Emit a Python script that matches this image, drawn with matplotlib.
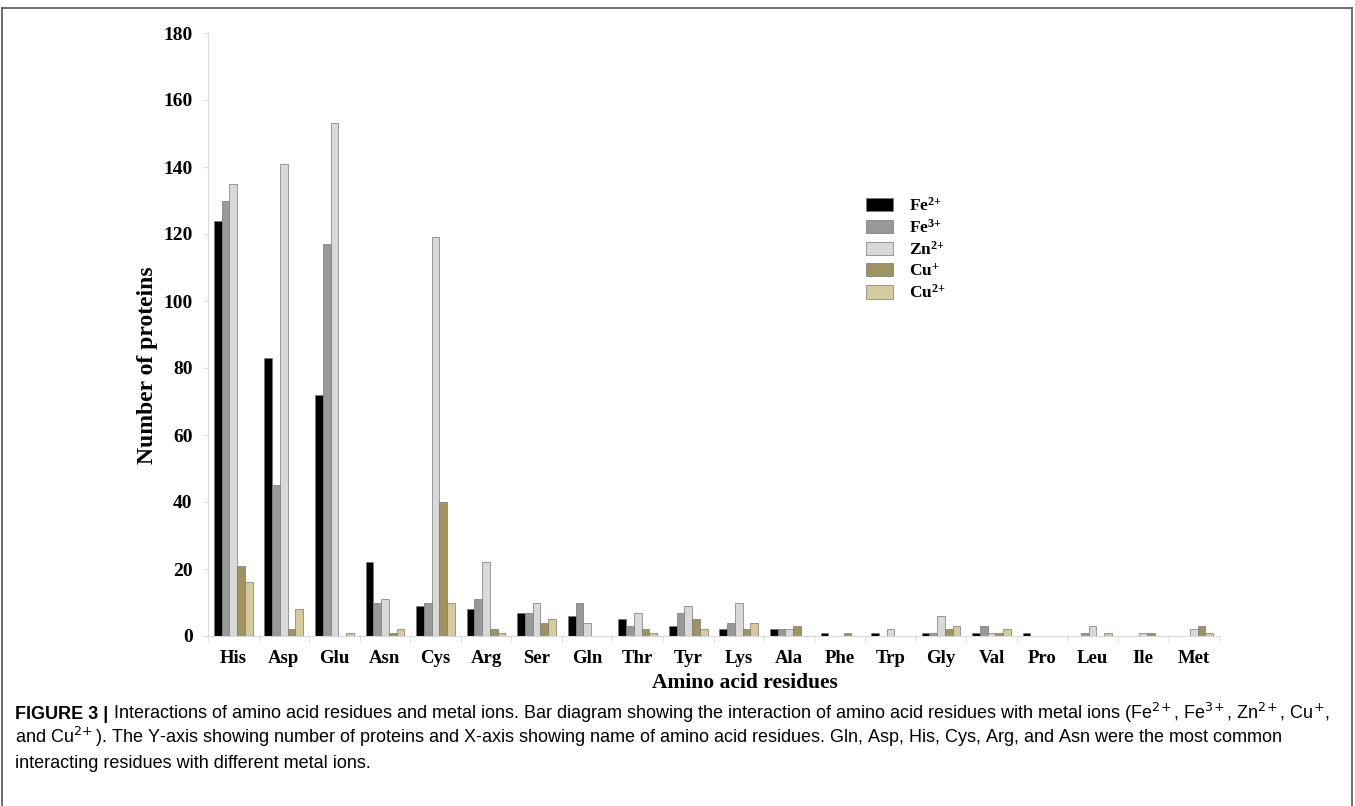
import matplotlib
matplotlib.use("Agg")
from matplotlib import pyplot as plt
from matplotlib.lines import Line2D
import numpy as np

residues = ["His", "Asp", "Glu", "Asn", "Cys", "Arg", "Ser", "Gln", "Thr", "Tyr",
            "Lys", "Ala", "Phe", "Trp", "Gly", "Val", "Pro", "Leu", "Ile", "Met"]
fe2 = [124, 83, 72, 22, 9, 8, 7, 6, 5, 3, 2, 2, 1, 1, 1, 1, 1, 0, 0, 0]
fe3 = [130, 45, 117, 10, 10, 11, 7, 10, 3, 7, 4, 2, 0, 0, 1, 3, 0, 1, 0, 0]
zn2 = [135, 141, 153, 11, 119, 22, 10, 4, 7, 9, 10, 2, 0, 2, 6, 1, 0, 3, 1, 2]
cu1 = [21, 2, 0, 1, 40, 2, 4, 0, 2, 5, 2, 3, 1, 0, 2, 1, 0, 0, 1, 3]
cu2 = [16, 8, 1, 2, 10, 1, 5, 0, 1, 2, 4, 0, 0, 0, 3, 2, 0, 1, 0, 1]
series_labels = [r"Fe$^{2\!+}$", r"Fe$^{3\!+}$", r"Zn$^{2\!+}$", r"Cu$^{+}$", r"Cu$^{2\!+}$"]
yticks = [0, 20, 40, 60, 80, 100, 120, 140, 160, 180]

colors = ["#000000", "#999999", "#d9d9d9", "#a09362", "#d4ca9e"]

plt.rcParams["mathtext.fontset"] = "custom"
plt.rcParams["mathtext.rm"] = "Liberation Serif:bold"
plt.rcParams["mathtext.bf"] = "Liberation Serif:bold"
plt.rcParams["mathtext.it"] = "Liberation Serif:bold"

W, H = 1355, 806
L, R, T, B = 208, 1219, 33, 636
fig = plt.figure(figsize=(W / 100, H / 100), dpi=100)
ax = fig.add_axes([L / W, 1 - B / H, (R - L) / W, (B - T) / H])
aw, ah = R - L, B - T

x = np.arange(len(residues))
bw = 0.153
series = [fe2, fe3, zn2, cu1, cu2]
for i, vals in enumerate(series):
    ax.bar(x + (i - 2) * bw, vals, width=bw, color=colors[i],
           edgecolor="#777777", linewidth=0.5, label=series_labels[i])

ax.set_xlim(-0.5, len(residues) - 0.5)
ax.set_ylim(0, 180)
ax.set_yticks(yticks)
ax.set_xticks(x)
ax.set_xticks(np.arange(len(residues) + 1) - 0.5, minor=True)
ax.tick_params(axis="x", which="major", length=0, pad=10)
ax.tick_params(axis="x", which="minor", length=4, color="#d9d9d9")
ax.tick_params(axis="y", length=3, color="#d9d9d9", pad=8)
ax.set_xticklabels(residues, fontfamily="Liberation Serif", fontweight="bold", fontsize=13.5)
for t in ax.get_yticklabels():
    t.set_fontfamily("Liberation Serif")
    t.set_fontweight("bold")
    t.set_fontsize(14)

for s in ["top", "right"]:
    ax.spines[s].set_visible(False)
ax.spines["left"].set_color("#d9d9d9")
ax.spines["bottom"].set_color("#d9d9d9")

ax.set_xlabel("Amino acid residues", fontfamily="Liberation Serif",
              fontweight="bold", fontsize=15.5)
ax.set_ylabel("Number of proteins", fontfamily="Liberation Serif",
              fontweight="bold", fontsize=17)
ax.xaxis.set_label_coords((745 - L) / aw, -(683 - B) / ah)
ax.yaxis.set_label_coords((147 - L) / aw, (B - 365) / ah)
ax.xaxis.label.set_va("center")
ax.yaxis.label.set_va("center")

ax.legend(loc="upper left", bbox_to_anchor=((850 - L) / aw, 0.755), frameon=False,
          prop={"family": "Liberation Serif", "weight": "bold", "size": 12.5},
          handlelength=1.55, handleheight=0.8, labelspacing=0.25, handletextpad=0.95)

# frame around the figure panel
for xs, ys in [([2, 2], [8, H]), ([2, 1352], [8, 8]), ([1352, 1352], [8, H])]:
    fig.add_artist(Line2D([v / W for v in xs], [1 - v / H for v in ys],
                          color="#555555", linewidth=1.2))

cap_font = ["Liberation Sans Narrow", "Liberation Sans"]
cap_size = 13
t1 = fig.text(15 / W, 1 - 719 / H, "FIGURE 3 |", fontfamily=cap_font,
              fontweight="bold", fontsize=cap_size, va="baseline", ha="left")
renderer = fig.canvas.get_renderer()
x_after = t1.get_window_extent(renderer).x1 / W
fig.text(x_after, 1 - 719 / H,
         " Interactions of amino acid residues and metal ions. Bar diagram showing the "
         "interaction of amino acid residues with metal ions (Fe$^{2\\!+}$, Fe$^{3\\!+}$, "
         "Zn$^{2\\!+}$, Cu$^{+}$,",
         fontfamily=cap_font, fontsize=cap_size, va="baseline", ha="left",
         math_fontfamily="dejavusans")
fig.text(15 / W, 1 - 743 / H,
         "and Cu$^{2\\!+}$). The Y-axis showing number of proteins and X-axis showing name "
         "of amino acid residues. Gln, Asp, His, Cys, Arg, and Asn were the most common",
         fontfamily=cap_font, fontsize=cap_size, va="baseline", ha="left",
         math_fontfamily="dejavusans")
fig.text(15 / W, 1 - 768 / H, "interacting residues with different metal ions.",
         fontfamily=cap_font, fontsize=cap_size, va="baseline", ha="left")

fig.savefig("out.png", dpi=100)
